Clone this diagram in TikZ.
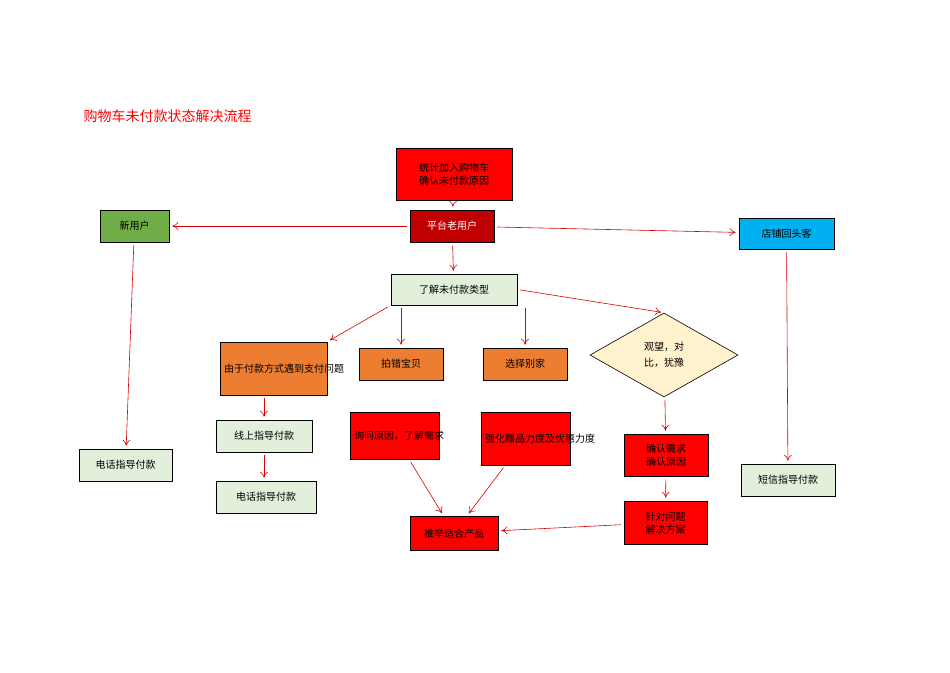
\documentclass[tikz,border=0pt]{standalone}
\usepackage{fontspec}
\newfontfamily\cjk{Noto Sans CJK SC}
\usetikzlibrary{arrows.meta,shapes.geometric}
\definecolor{boxred}{HTML}{FF0000}
\definecolor{darkred}{HTML}{C00000}
\definecolor{boxgreen}{HTML}{70AD47}
\definecolor{boxcyan}{HTML}{00B0F0}
\definecolor{lightgreen}{HTML}{E2EFDA}
\definecolor{boxorange}{HTML}{ED7D31}
\definecolor{lightyellow}{HTML}{FFF2CC}
\tikzset{
  box/.style = {draw=black, line width=0.6pt, inner sep=4pt, font=\cjk\fontsize{10}{13}\selectfont, align=left},
  redbox/.style = {box, fill=boxred, text depth=0pt},
  greenbox/.style = {box, fill=lightgreen},
  orangebox/.style = {box, fill=boxorange},
  flow/.style = {draw=red!85!black, line width=0.6pt, -{To[length=6pt,width=8pt]}, shorten >=3pt, shorten <=3pt}
}
\begin{document}
\begin{tikzpicture}[x=1pt, y=-1pt]
\useasboundingbox (0,0) rectangle (950,672);
\node[anchor=west, text=red, font=\cjk\fontsize{14}{16}\selectfont] (title) at (80,116) {购物车未付款状态解决流程};
%
\node[redbox, minimum width=116pt, minimum height=52pt] (count) at (454,174) {统计加入购物车\\确认未付款原因};
\node[box, fill=darkred, text=white, minimum width=84pt, minimum height=32pt] (old) at (452,226) {平台老用户};
\node[box, fill=boxgreen, minimum width=69pt, minimum height=32pt] (new) at (134.5,226) {新用户};
\node[box, fill=boxcyan, minimum width=95pt, minimum height=31pt] (back) at (786.5,233.5) {店铺回头客};
\node[greenbox, minimum width=126pt, minimum height=31pt] (type) at (454,289.5) {了解未付款类型};
%
\node[orangebox, text width=99pt, minimum height=53pt] (pay) at (273.5,368.5) {由于付款方式遇到支付问题};
\node[orangebox, minimum width=84pt, minimum height=32pt] (wrong) at (401,364) {拍错宝贝};
\node[orangebox, minimum width=84pt, minimum height=32pt] (other) at (525,364) {选择别家};
\node[diamond, draw=black, line width=0.6pt, fill=lightyellow, minimum width=148pt, minimum height=84pt, aspect=1.76, inner sep=0pt, align=center, font=\cjk\fontsize{10}{16}\selectfont] (wait) at (664,355) {观望，对\\比，犹豫};
%
\node[greenbox, minimum width=96pt, minimum height=32pt] (online) at (264,436) {线上指导付款};
\node[greenbox, minimum width=100pt, minimum height=32pt] (phone) at (266,497) {电话指导付款};
\node[greenbox, minimum width=93pt, minimum height=32pt] (phonenew) at (125.5,465) {电话指导付款};
\node[greenbox, minimum width=94pt, minimum height=32pt] (sms) at (788,480) {短信指导付款};
%
\node[redbox, text width=81pt, minimum height=47pt] (ask) at (394.5,435.5) {询问原因，了解需求};
\node[redbox, text width=81pt, minimum height=53pt] (gift) at (525.5,438.5) {强化赠品力度及优惠力度};
\node[redbox, minimum width=84pt, minimum height=42pt] (confirm) at (666,455) {确认需求\\确认原因};
\node[redbox, minimum width=83pt, minimum height=43pt] (solve) at (665.5,522.5) {针对问题\\解决方案};
\node[redbox, minimum width=88pt, minimum height=34pt] (rec) at (454,533) {推举适合产品};
%
\draw[flow] (count) -- (old);
\draw[flow] (old) -- (new);
\draw[flow] (old) -- (back);
\draw[flow] (old) -- (type);
\draw[flow] (type.south west) -- (pay.north east);
\draw[flow] (type.south -| wrong) -- (wrong);
\draw[flow] (type.south -| other) -- (other);
\draw[flow] (type.east) -- (wait.north);
\draw[flow] (new) -- (phonenew);
\draw[flow] (back) -- (sms);
\draw[flow] (pay.south -| online) -- (online);
\draw[flow] (online) -- (online |- phone.north);
\draw[flow] (ask) -- (rec);
\draw[flow] (gift) -- (rec);
\draw[flow] (wait) -- (confirm);
\draw[flow] (confirm) -- (solve);
\draw[flow] (solve) -- (rec);
\end{tikzpicture}
\end{document}
